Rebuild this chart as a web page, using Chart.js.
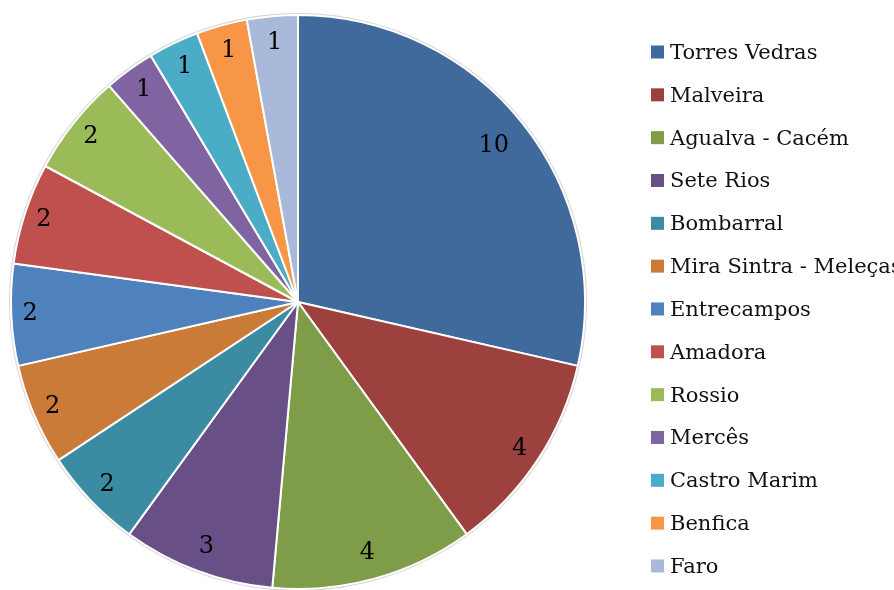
<!DOCTYPE html>
<html>
<head>
<meta charset="utf-8">
<script src="https://cdn.jsdelivr.net/npm/chart.js@4"></script>
<style>
  html, body { margin: 0; padding: 0; background: #ffffff; overflow: hidden; }
  #wrap { position: relative; width: 894px; height: 590px; }
</style>
</head>
<body>
<div id="wrap"><canvas id="c"></canvas></div>
<script>
const categories = ["Torres Vedras", "Malveira", "Agualva - Cacém", "Sete Rios", "Bombarral",
  "Mira Sintra - Meleças", "Entrecampos", "Amadora", "Rossio", "Mercês", "Castro Marim", "Benfica", "Faro"];
const values = [10, 4, 4, 3, 2, 2, 2, 2, 2, 1, 1, 1, 1];
const colors = ["#40699C", "#9D413F", "#7F9C48", "#684F86", "#3B8CA2", "#CB7B38", "#4F81BD",
  "#C0504D", "#9BBB59", "#8064A2", "#4BACC6", "#F79646", "#A8B9D9"];

const outerRing = {
  id: 'outerRing',
  beforeDatasetsDraw(chart) {
    const meta = chart.getDatasetMeta(0);
    if (!meta.data.length) return;
    const p = meta.data[0].getProps(['x', 'y', 'outerRadius'], true);
    const ctx = chart.ctx;
    ctx.save();
    ctx.beginPath();
    ctx.arc(p.x, p.y, p.outerRadius + 1, 0, Math.PI * 2);
    ctx.strokeStyle = 'rgba(0,0,0,0.16)';
    ctx.lineWidth = 2;
    ctx.stroke();
    ctx.restore();
  }
};

const valueLabels = {
  id: 'valueLabels',
  afterDatasetsDraw(chart) {
    const ctx = chart.ctx;
    const meta = chart.getDatasetMeta(0);
    ctx.save();
    ctx.font = '24px "DejaVu Serif"';
    ctx.fillStyle = '#000000';
    ctx.textAlign = 'center';
    ctx.textBaseline = 'middle';
    const digitW = ctx.measureText('0').width;
    meta.data.forEach((arc, i) => {
      const p = arc.getProps(['x', 'y', 'startAngle', 'endAngle', 'outerRadius'], true);
      const mid = (p.startAngle + p.endAngle) / 2;
      const txt = String(chart.data.datasets[0].data[i]);
      const extra = ctx.measureText(txt).width - digitW;
      const c = Math.cos(mid);
      const r = p.outerRadius * (0.906 + 0.028 * c * c) - extra * 0.95;
      ctx.fillText(txt, p.x + c * r, p.y + Math.sin(mid) * r);
    });
    ctx.restore();
  }
};

const rightLegend = {
  id: 'rightLegend',
  afterDraw(chart) {
    const ctx = chart.ctx;
    const labels = chart.data.labels;
    const bg = chart.data.datasets[0].backgroundColor;
    ctx.save();
    ctx.font = '21px "DejaVu Serif"';
    ctx.textAlign = 'left';
    ctx.textBaseline = 'middle';
    labels.forEach((lab, i) => {
      const y = 52 + i * 42.83;
      ctx.fillStyle = bg[i];
      ctx.fillRect(651, y - 6.5, 13, 13);
      ctx.fillStyle = '#111111';
      ctx.fillText(lab, 670, y + 1.5);
    });
    ctx.restore();
  }
};

new Chart(document.getElementById('c'), {
  type: 'pie',
  data: {
    labels: categories,
    datasets: [{
      data: values,
      backgroundColor: colors,
      borderColor: '#ffffff',
      borderWidth: 2
    }]
  },
  options: {
    responsive: true,
    maintainAspectRatio: false,
    animation: false,
    devicePixelRatio: 1,
    layout: { padding: { top: 14, bottom: 0, left: 10, right: 308 } },
    plugins: {
      legend: { display: false },
      tooltip: { enabled: false }
    }
  },
  plugins: [outerRing, valueLabels, rightLegend]
});
</script>
</body>
</html>
